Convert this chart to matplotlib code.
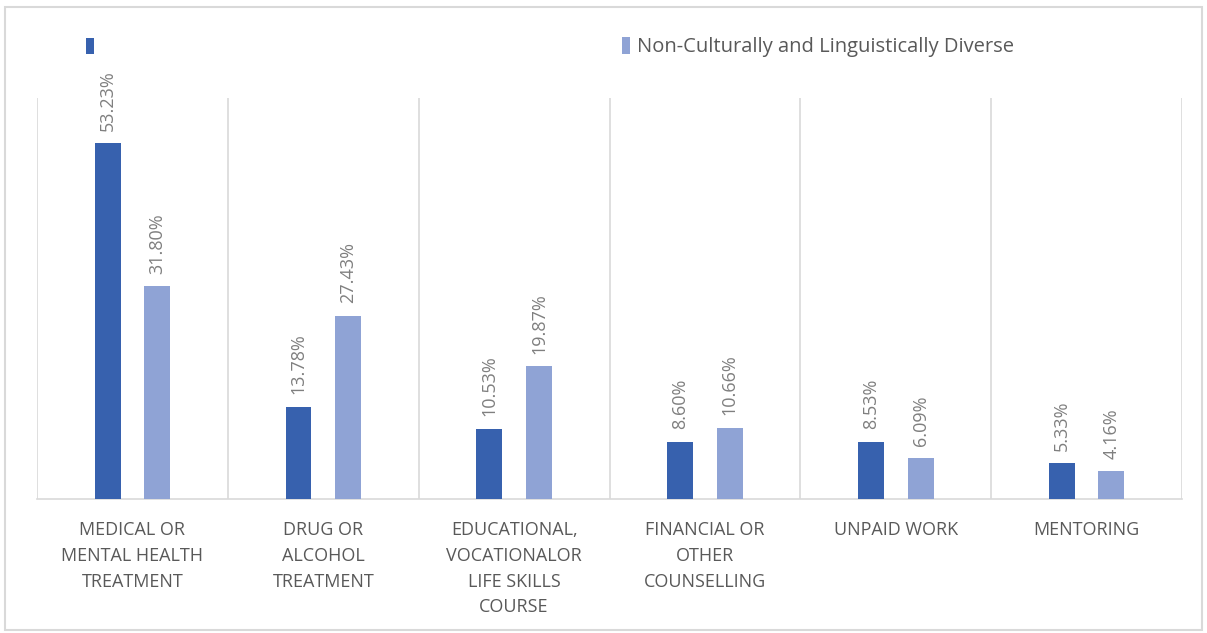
#!/usr/bin/env python3
"""
Support programs by background: grouped bar chart.
"""
import numpy as np
import matplotlib
matplotlib.use("Agg")
import matplotlib.pyplot as plt
from matplotlib.patches import Rectangle

categories = [
    "MEDICAL OR\nMENTAL HEALTH\nTREATMENT",
    "DRUG OR\nALCOHOL\nTREATMENT",
    "EDUCATIONAL,\nVOCATIONALOR\nLIFE SKILLS\nCOURSE",
    "FINANCIAL OR\nOTHER\nCOUNSELLING",
    "UNPAID WORK",
    "MENTORING",
]
cald_values = [53.23, 13.78, 10.53, 8.60, 8.53, 5.33]
non_cald_values = [31.80, 27.43, 19.87, 10.66, 6.09, 4.16]
series_labels = ["", "Non-Culturally and Linguistically Diverse"]

DARK = "#3761AE"
LIGHT = "#8FA3D5"
GRID = "#D9D9D9"
TEXT = "#595959"

plt.rcParams['font.family'] = ['Open Sans', 'DejaVu Sans']

fig = plt.figure(figsize=(12.07, 6.33), dpi=100)
ax = fig.add_axes([0.0307, 0.2117, 0.9486, 0.6335])

x = np.arange(len(categories))
width = 0.136
offset = 0.13
bars1 = ax.bar(x - offset, cald_values, width, color=DARK, label=series_labels[0], zorder=3)
bars2 = ax.bar(x + offset, non_cald_values, width, color=LIGHT, label=series_labels[1], zorder=3)

# value labels, rotated like the original
for bars in (bars1, bars2):
    for b in bars:
        ax.annotate(f"{b.get_height():.2f}%",
                    (b.get_x() + b.get_width() / 2, b.get_height()),
                    xytext=(0, 9), textcoords="offset points",
                    rotation=90, ha="center", va="bottom",
                    fontsize=13, color="#7F7F7F")

ax.set_xlim(-0.5, len(categories) - 0.5)
ax.set_ylim(0, 60)

# category separators
for b in np.arange(len(categories) + 1) - 0.5:
    ax.axvline(b, color=GRID, lw=1.2, zorder=1)

for s in ("top", "left", "right"):
    ax.spines[s].set_visible(False)
ax.spines["bottom"].set_color(GRID)
ax.spines["bottom"].set_linewidth(1.2)
ax.set_yticks([])
ax.set_xticks(x)
ax.set_xticklabels(categories, fontsize=13, color=TEXT, linespacing=1.55)
ax.tick_params(axis="x", length=0, pad=16)

# legend: two entries spread wide apart
leg1 = fig.legend(handles=[bars1], labels=[series_labels[0]], loc="center left",
                  bbox_to_anchor=(0.057, 0.925), frameon=False,
                  handlelength=0.4, handleheight=0.85, fontsize=14)
leg2 = fig.legend(handles=[bars2], labels=[series_labels[1]], loc="center left",
                  bbox_to_anchor=(0.5, 0.925), frameon=False,
                  handlelength=0.4, handleheight=0.85, handletextpad=0.35,
                  fontsize=14.5, labelcolor=TEXT)

# outer chart border
fig.patches.append(Rectangle((0.004, 0.005), 0.992, 0.984, transform=fig.transFigure,
                             fill=False, edgecolor="#D9D9D9", lw=1.5))

fig.savefig("out.png", dpi=100)
